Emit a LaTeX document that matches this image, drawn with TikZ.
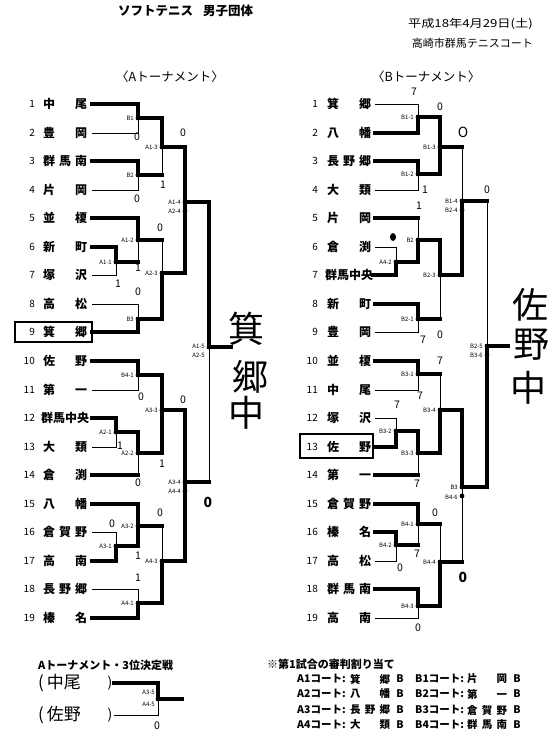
\documentclass[tikz,border=0pt]{standalone}
\usepackage{fontspec}
\setmainfont{Noto Sans CJK JP}
\newcommand\twoch[2]{\makebox[44pt][l]{#1\hfill#2}}
\newcommand\thrch[3]{\makebox[44pt][l]{#1\hfill#2\hfill#3}}
\newcommand\fourch[1]{\makebox[44pt][c]{#1}}
\newcommand\reftwo[2]{\makebox[40pt][l]{#1\hfill#2}}
\newcommand\refthr[3]{\makebox[40pt][l]{#1\hfill#2\hfill#3}}
\tikzset{
  num/.style={anchor=east,inner sep=0,font=\fontsize{10}{10}\selectfont},
  tname/.style={anchor=west,inner sep=0,font=\bfseries\fontsize{12}{12}\selectfont},
  lab/.style={anchor=east,inner sep=0,font=\fontsize{6}{6}\selectfont},
  sc/.style={inner sep=0,font=\fontsize{10.5}{10.5}\selectfont},
  scb/.style={inner sep=0,font=\bfseries\fontsize{14}{14}\selectfont},
  hand/.style={inner sep=0,font=\fontsize{36}{36}\selectfont},
  hd/.style={inner sep=0,font=\fontsize{11}{11}\selectfont},
  refx/.style={inner sep=0,font=\bfseries\fontsize{10.5}{10.5}\selectfont}}
\begin{document}
\begin{tikzpicture}[x=1pt,y=-1pt,
  thinln/.style={draw=black,line width=0.8pt},
  boldln/.style={draw=black,line width=4.2pt,line cap=rect}]
\useasboundingbox (0,0) rectangle (555,736);
% ---------- header ----------
\node[hd,anchor=west,font=\bfseries\fontsize{12.5}{12.5}\selectfont] (title) at (118,11) {ソフトテニス\hspace{10pt}男子団体};
\node[hd,anchor=east] (date) at (533,24) {\scalebox{1.2}[1]{平成18年4月29日(土)}};
\node[hd,anchor=east] (place) at (533,43) {高崎市群馬テニスコート};
\node[hd,anchor=west,font=\fontsize{12.5}{12.5}\selectfont] (ha) at (116,77) {〈Aトーナメント〉};
\node[hd,anchor=west,font=\fontsize{12.5}{12.5}\selectfont] (hb) at (372,77) {〈Bトーナメント〉};
% ---------- A teams ----------
\foreach \i/\y/\n in {1/104/{\twoch{中}{尾}},2/133/{\twoch{豊}{岡}},3/161/{\thrch{群}{馬}{南}},
  4/190/{\twoch{片}{岡}},5/218/{\twoch{並}{榎}},6/247/{\twoch{新}{町}},7/275/{\twoch{塚}{沢}},
  8/304/{\twoch{高}{松}},9/332/{\twoch{箕}{郷}},10/361/{\twoch{佐}{野}},11/390/{\twoch{第}{一}},
  12/418/{\fourch{群馬中央}},13/447/{\twoch{大}{類}},14/475/{\twoch{倉}{渕}},15/504/{\twoch{八}{幡}},
  16/532/{\thrch{倉}{賀}{野}},17/561/{\twoch{高}{南}},18/589/{\thrch{長}{野}{郷}},19/618/{\twoch{榛}{名}}}
{\node[num] (an\i) at (35,\y) {\i};
 \node[tname] (a\i) at (43,\y) {\n};}
% ---------- B teams ----------
\foreach \i/\y/\n in {1/104/{\twoch{箕}{郷}},2/133/{\twoch{八}{幡}},3/161/{\thrch{長}{野}{郷}},
  4/190/{\twoch{大}{類}},5/218/{\twoch{片}{岡}},6/247/{\twoch{倉}{渕}},7/275/{\fourch{群馬中央}},
  8/304/{\twoch{新}{町}},9/332/{\twoch{豊}{岡}},10/361/{\twoch{並}{榎}},11/390/{\twoch{中}{尾}},
  12/418/{\twoch{塚}{沢}},13/447/{\twoch{佐}{野}},14/475/{\twoch{第}{一}},15/504/{\thrch{倉}{賀}{野}},
  16/532/{\twoch{榛}{名}},17/561/{\twoch{高}{松}},18/589/{\thrch{群}{馬}{南}},19/618/{\twoch{高}{南}}}
{\node[num] (bn\i) at (318,\y) {\i};
 \node[tname] (b\i) at (327,\y) {\n};}
% boxes around winners
\draw[line width=2.2pt] (15,322) rectangle (92,342);
\draw[line width=2.2pt] (300,434) rectangle (373,458);
% ---------- A bracket ----------
\draw[boldln] ([xshift=5pt]a1.east) -| (138,118) -- (162,118);
\draw[thinln] ([xshift=5pt]a2.east) -| (138,118);
\draw[boldln] ([xshift=5pt]a3.east) -| (138,175) -- (162,175);
\draw[thinln] ([xshift=5pt]a4.east) -| (138,175);
\draw[boldln] (162,118) -- (162,147) -- (185,147);
\draw[thinln] (162,147) -- (162,175);
\draw[boldln] ([xshift=5pt]a6.east) -| (116,262) -- (138,262);
\draw[thinln] ([xshift=5pt]a7.east) -| (116,262);
\draw[boldln] ([xshift=5pt]a5.east) -| (138,240) -- (162,240);
\draw[thinln] (138,240) -- (138,262);
\draw[thinln] ([xshift=5pt]a8.east) -| (138,319);
\draw[boldln] ([xshift=5pt]a9.east) -| (138,319) -- (162,319);
\draw[thinln] (162,240) -- (162,273);
\draw[boldln] (162,319) -- (162,273) -- (185,273);
\draw[boldln] (185,147) -- (185,273);
\draw[boldln] (185,202) -- (209,202) -- (209,347) -- (231,347);
\draw[thinln] (209,347) -- (209,482);
\draw[boldln] ([xshift=5pt]a10.east) -| (138,375) -- (162,375);
\draw[thinln] ([xshift=5pt]a11.east) -| (138,375);
\draw[boldln] ([xshift=5pt]a12.east) -| (116,432) -- (138,432);
\draw[thinln] ([xshift=5pt]a13.east) -| (116,432);
\draw[boldln] (138,432) -- (138,453) -- (162,453);
\draw[boldln] ([xshift=5pt]a14.east) -- (138,475);
\draw[thinln] (138,475) -- (138,453);
\draw[boldln] (162,375) -- (162,453);
\draw[boldln] (162,410) -- (185,410);
\draw[boldln] ([xshift=5pt]a15.east) -| (138,526) -- (162,526);
\draw[thinln] ([xshift=5pt]a16.east) -| (116,546);
\draw[boldln] ([xshift=5pt]a17.east) -| (116,546) -- (138,546);
\draw[boldln] (138,526) -- (138,546);
\draw[thinln] ([xshift=5pt]a18.east) -| (138,603);
\draw[boldln] ([xshift=5pt]a19.east) -| (138,603) -- (162,603);
\draw[thinln] (162,526) -- (162,561);
\draw[boldln] (162,603) -- (162,561) -- (185,561);
\draw[boldln] (185,410) -- (185,561);
\draw[boldln] (185,482) -- (209,482);
% ---------- B bracket ----------
\draw[thinln] ([xshift=4pt]b1.east) -| (418,117);
\draw[boldln] ([xshift=4pt]b2.east) -| (418,117) -- (440,117);
\draw[boldln] ([xshift=4pt]b3.east) -| (418,174) -- (440,174);
\draw[thinln] ([xshift=4pt]b4.east) -| (418,174);
\draw[boldln] (440,117) -- (440,174);
\draw[boldln] (440,147) -- (462,147);
\draw[boldln] ([xshift=4pt]b5.east) -- (418,218);
\draw[thinln] (418,218) -- (418,240);
\draw[thinln] ([xshift=4pt]b6.east) -| (396,262);
\draw[boldln] ([xshift=2pt]b7.east) -| (396,262) -- (418,262);
\draw[boldln] (418,262) -- (418,240) -- (440,240);
\draw[boldln] ([xshift=4pt]b8.east) -| (418,319) -- (440,319);
\draw[thinln] ([xshift=4pt]b9.east) -| (418,319);
\draw[boldln] (440,240) -- (440,275) -- (462,275);
\draw[thinln] (440,275) -- (440,319);
\draw[thinln] (462,147) -- (462,201);
\draw[boldln] (462,275) -- (462,201) -- (487,201);
\draw[thinln] (487,201) -- (487,346);
\draw[boldln] (487,487) -- (487,346) -- (508,346);
\draw[boldln] ([xshift=4pt]b10.east) -| (418,374) -- (440,374);
\draw[thinln] ([xshift=4pt]b11.east) -| (418,374);
\draw[thinln] ([xshift=4pt]b12.east) -| (396,431);
\draw[boldln] ([xshift=4pt]b13.east) -| (396,431) -- (418,431);
\draw[boldln] (418,431) -- (418,453) -- (440,453);
\draw[boldln] ([xshift=4pt]b14.east) -- (418,475);
\draw[thinln] (418,475) -- (418,453);
\draw[thinln] (440,374) -- (440,410);
\draw[boldln] (440,453) -- (440,410) -- (462,410);
\draw[boldln] (462,410) -- (462,487) -- (487,487);
\draw[thinln] (462,487) -- (462,562);
\draw[boldln] ([xshift=4pt]b15.east) -| (418,524) -- (440,524);
\draw[boldln] ([xshift=4pt]b16.east) -| (396,545) -- (418,545);
\draw[thinln] ([xshift=4pt]b17.east) -| (396,545);
\draw[thinln] (418,524) -- (418,545);
\draw[boldln] ([xshift=4pt]b18.east) -| (418,606) -- (440,606);
\draw[thinln] ([xshift=4pt]b19.east) -| (418,606);
\draw[thinln] (440,524) -- (440,562);
\draw[boldln] (440,606) -- (440,562) -- (462,562);
% ---------- junction dots ----------
\foreach \p in {(138,118),(138,175),(162,147),(116,262),(138,240),(138,319),(162,273),(185,202),(185,211),
  (209,347),(138,375),(116,432),(138,453),(162,410),(138,526),(116,546),(138,603),(162,561),(185,482),(185,491),
  (418,117),(418,174),(440,147),(396,262),(418,240),(418,319),(440,275),(462,201),(462,210),(487,346),(487,355),
  (418,374),(396,431),(418,453),(440,410),(462,487),(462,496),(418,524),(396,545),(418,606),(440,562)}
  \fill \p circle (2.4);
% ---------- match labels ----------
\node[lab] (la1) at (134,118) {B1};
\node[lab] (la2) at (134,175) {B2};
\node[lab] (la3) at (158,147) {A1-3};
\node[lab] (la4) at (112,262) {A1-1};
\node[lab] (la5) at (134,240) {A1-2};
\node[lab] (la6) at (134,319) {B3};
\node[lab] (la7) at (158,273) {A2-3};
\node[lab] (la8) at (181,202) {A1-4};
\node[lab] (la9) at (181,211) {A2-4};
\node[lab] (la10) at (205,346) {A1-5};
\node[lab] (la11) at (205,355) {A2-5};
\node[lab] (la12) at (134,375) {B4-1};
\node[lab] (la13) at (112,432) {A2-1};
\node[lab] (la14) at (134,453) {A2-2};
\node[lab] (la15) at (158,410) {A3-3};
\node[lab] (la16) at (134,526) {A3-2};
\node[lab] (la17) at (112,546) {A3-1};
\node[lab] (la18) at (134,603) {A4-1};
\node[lab] (la19) at (158,561) {A4-3};
\node[lab] (la20) at (181,482) {A3-4};
\node[lab] (la21) at (181,491) {A4-4};
\node[lab] (lb1) at (414,117) {B1-1};
\node[lab] (lb2) at (414,174) {B1-2};
\node[lab] (lb3) at (436,147) {B1-3};
\node[lab] (lb4) at (392,262) {A4-2};
\node[lab] (lb5) at (414,240) {B2};
\node[lab] (lb6) at (414,319) {B2-1};
\node[lab] (lb7) at (436,275) {B2-3};
\node[lab] (lb8) at (458,201) {B1-4};
\node[lab] (lb9) at (458,210) {B2-4};
\node[lab] (lb10) at (483,346) {B2-5};
\node[lab] (lb11) at (483,355) {B3-6};
\node[lab] (lb12) at (414,374) {B3-1};
\node[lab] (lb13) at (392,431) {B3-2};
\node[lab] (lb14) at (414,453) {B3-3};
\node[lab] (lb15) at (436,410) {B3-4};
\node[lab] (lb16) at (458,487) {B3};
\node[lab] (lb17) at (458,497) {B4-6};
\node[lab] (lb18) at (414,524) {B4-1};
\node[lab] (lb19) at (392,545) {B4-2};
\node[lab] (lb20) at (414,606) {B4-3};
\node[lab] (lb21) at (436,562) {B4-4};
% ---------- scores ----------
\node[sc] (sa1) at (137,137) {0};
\node[sc] (sa2) at (183,133) {0};
\node[sc] (sa3) at (163,185) {1};
\node[sc] (sa4) at (137,199) {0};
\node[sc] (sa5) at (160,228) {0};
\node[sc] (sa6) at (138,268) {1};
\node[sc] (sa7) at (118,284) {1};
\node[sc] (sa8) at (138,292) {0};
\node[sc] (sa9) at (141,397) {0};
\node[sc] (sa10) at (183,400) {0};
\node[sc] (sa11) at (120,446) {1};
\node[sc] (sa12) at (162,464) {1};
\node[sc] (sa13) at (138,483) {0};
\node[scb] (sa14) at (208,502) {0};
\node[sc] (sa15) at (160,513) {0};
\node[sc] (sa16) at (112,524) {0};
\node[sc] (sa17) at (138,556) {1};
\node[sc] (sa18) at (138,578) {1};
\node[sc] (sb1) at (414,92) {7};
\node[sc] (sb2) at (440,107) {0};
\node[sc,font=\fontsize{14}{14}\selectfont] (sb3) at (463,132) {O};
\node[sc] (sb4) at (425,190) {1};
\node[sc] (sb5) at (487,190) {0};
\node[sc] (sb6) at (419,206) {1};
\fill (393,237) ellipse (3 and 4);
\node[sc] (sb7) at (423,340) {7};
\node[sc] (sb8) at (440,335) {0};
\node[sc] (sb9) at (440,361) {7};
\node[sc] (sb10) at (420,396) {7};
\node[sc] (sb11) at (397,405) {7};
\node[sc] (sb12) at (417,484) {7};
\node[sc] (sb13) at (435,513) {0};
\node[sc] (sb14) at (417,554) {7};
\node[sc] (sb15) at (400,568) {0};
\node[scb] (sb16) at (463,577) {0};
\node[sc] (sb17) at (418,628) {0};
% ---------- winners (handwritten) ----------
\node[hand] (wa1) at (246,329) {箕};
\node[hand] (wa2) at (250,377) {郷};
\node[hand] (wa3) at (246,413) {中};
\node[hand] (wb1) at (530,305) {佐};
\node[hand] (wb2) at (531,345) {野};
\node[hand] (wb3) at (528,388) {中};
% ---------- third place ----------
\node[refx,anchor=west,font=\bfseries\fontsize{11}{11}\selectfont] (third) at (38,665) {Aトーナメント・3位決定戦};
\node[inner sep=0,anchor=west,font=\fontsize{17}{17}\selectfont] (t1) at (38,683) {(\,中尾};
\node[inner sep=0,font=\fontsize{14}{14}\selectfont] (t1r) at (110,683) {)};
\node[inner sep=0,anchor=west,font=\fontsize{17}{17}\selectfont] (t2) at (38,715) {(\,佐野};
\node[inner sep=0,font=\fontsize{14}{14}\selectfont] (t2r) at (110,715) {)};
\draw[boldln] ([xshift=2pt]t1r.east) -| (158,699) -- (182,699);
\draw[thinln] ([xshift=1pt]t2r.east) -| (158,699);
\fill (158,699) circle (2.4);
\node[lab] (lt1) at (155,692) {A3-5};
\node[lab] (lt2) at (155,704) {A4-5};
\node[sc] (st1) at (157,726) {0};
% ---------- referee assignment ----------
\node[refx,anchor=west,font=\bfseries\fontsize{11}{11}\selectfont] (ref) at (267,664) {※第1試合の審判割り当て};
\foreach \y/\ca/\na/\cb/\nb in {679/A1/{\reftwo{箕}{郷}}/B1/{\reftwo{片}{岡}},
   694/A2/{\reftwo{八}{幡}}/B2/{\reftwo{第}{一}},
   710/A3/{\refthr{長}{野}{郷}}/B3/{\refthr{倉}{賀}{野}},
   725/A4/{\reftwo{大}{類}}/B4/{\refthr{群}{馬}{南}}}
{\node[refx,anchor=west] (rca\y) at (297,\y) {\ca コート:};
 \node[refx,anchor=west] (rna\y) at (350,\y) {\na};
 \node[refx] (rba\y) at (400,\y) {B};
 \node[refx,anchor=west] (rcb\y) at (415,\y) {\cb コート:};
 \node[refx,anchor=west] (rnb\y) at (467,\y) {\nb};
 \node[refx] (rbb\y) at (517,\y) {B};}
\end{tikzpicture}
\end{document}
